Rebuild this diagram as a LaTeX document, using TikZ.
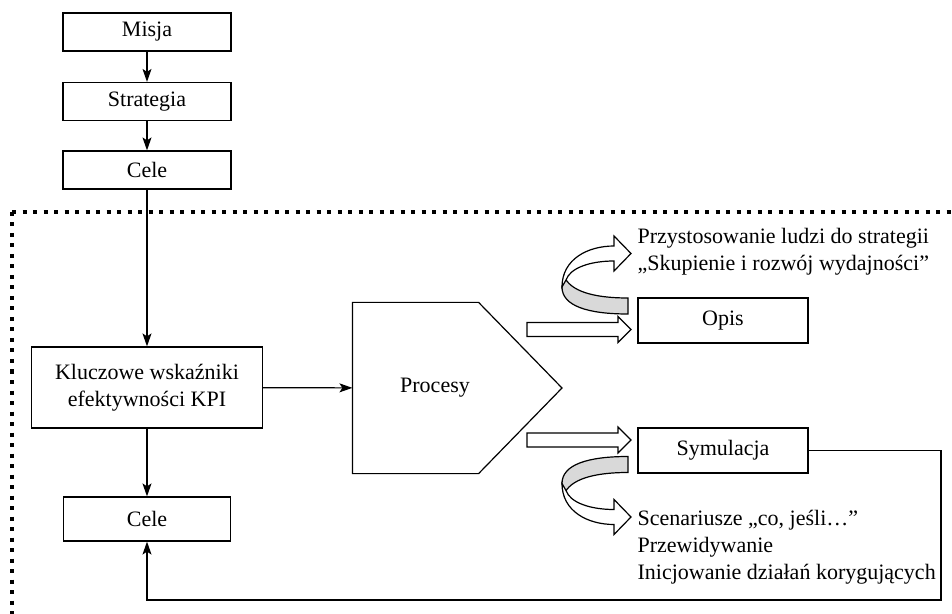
\documentclass[tikz,border=0pt]{standalone}
\usepackage{fontspec}
\setmainfont{Liberation Serif}
\usetikzlibrary{arrows.meta}

\tikzset{ribbon/.pic={
  \path[draw,fill=gray!30] (0,-8) -- (0,8) .. controls (-40,8) and (-66,0) .. (-66,-19)
    -- (-64,-30) .. controls (-58,-15) and (-35,-8) .. (0,-8) -- cycle;
  \path[draw,fill=white] (-66,-19) .. controls (-66,-47) and (-40,-60) .. (-14,-60)
    -- (-14,-70) -- (3,-52.5) -- (-14,-35) -- (-14,-45)
    .. controls (-38,-45) and (-58,-38) .. (-62,-26) -- cycle;
}}

\begin{document}
\begin{tikzpicture}[x=0.5pt,y=-0.5pt,line width=0.6pt,
  every node/.style={font=\rmfamily\fontsize{11}{13.6}\selectfont,inner sep=0pt},
  box/.style={draw,minimum width=84pt,minimum height=19pt},
  arr/.style={-{Stealth[length=6.5pt,width=4.5pt,inset=1.5pt]}},
  hollow/.style={draw,fill=white},
  frame/.style={line width=2pt,dash pattern=on 2pt off 3.25pt}]
\useasboundingbox (0,0) rectangle (952,614);

\draw[frame] (12,212) -- (952,212);
\draw[frame] (12,212) -- (12,614);

\node[box] (misja) at (147,32) {Misja};
\node[box] (strategia) at (147,101.5) {Strategia};
\node[box] (cele) at (147,170) {Cele};
\node[box,minimum width=115.5pt,minimum height=40.5pt,align=center] (kpi) at (147,387.5) {Kluczowe wskaźniki\\efektywności KPI};
\node[box,minimum width=83.5pt,minimum height=22pt] (cele2) at (147,519) {Cele};

\node[minimum width=62.5pt,minimum height=85pt] (procesy) at (415.5,388) {};
\draw (procesy.north west) -- (procesy.north east) -- (562,388)
  -- (procesy.south east) -- (procesy.south west) -- cycle;
\node (procesytxt) at (435,388) {Procesy};

\node[box,minimum width=85pt,minimum height=22.5pt] (opis) at (723,320.5) {Opis};
\node[box,minimum width=85pt,minimum height=22.5pt] (symulacja) at (723,450.5) {Symulacja};

\draw[arr] (misja) -- (strategia);
\draw[arr] (strategia) -- (cele);
\draw[arr] (cele) -- (kpi);
\draw[arr] (kpi) -- (cele2);
\draw[arr] (kpi) -- (procesy);
\coordinate (fb) at (941,600);
\draw[arr] (symulacja.east) -| (fb) -| (cele2.south);

\path[hollow] (527,322.5) -- (618,322.5) -- (618,316.5) -- (631,329.5)
  -- (618,342.5) -- (618,336.5) -- (527,336.5) -- cycle;
\path[hollow] (527,433) -- (618,433) -- (618,427) -- (631,440)
  -- (618,453) -- (618,447) -- (527,447) -- cycle;

\pic at (628,306) {ribbon};
\pic[yscale=-1] at (628,464.5) {ribbon};

\node[anchor=west,align=left] (cel) at (637,252) {Przystosowanie ludzi do strategii\\„Skupienie i rozwój wydajności”};
\node[anchor=west,align=left] (scen) at (637,547) {Scenariusze „co, jeśli…”\\Przewidywanie\\Inicjowanie działań korygujących};
\end{tikzpicture}
\end{document}
